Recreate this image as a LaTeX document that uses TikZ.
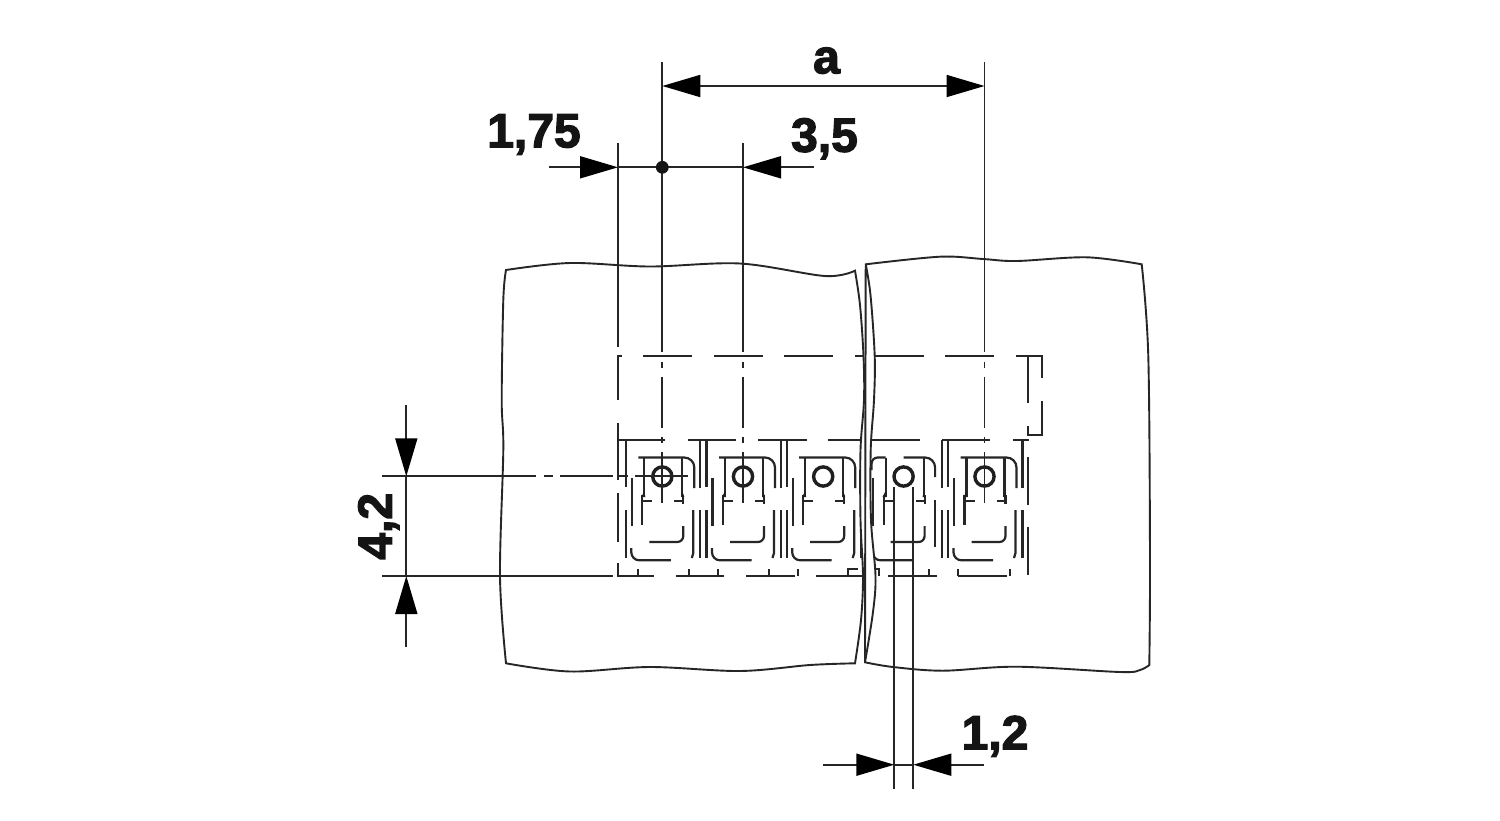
\documentclass[tikz,border=0pt]{standalone}
\usepackage{fontspec}
\setmainfont{Liberation Sans}
\newfontfamily\dimfont{Liberation Sans}[BoldFeatures={FakeBold=2.6}]
\usetikzlibrary{arrows.meta}
\tikzset{
  thinline/.style={line width=1.8pt,color=black!85},
  detail/.style={line width=2.2pt,color=black!85},
  plate/.style={line width=1.9pt,color=black!85,line join=miter},
  dimlabel/.style={inner sep=0pt,anchor=base,font=\dimfont\bfseries\fontsize{48}{48}\selectfont,text=black!92},
  tip/.style={-{Triangle[length=38pt,width=22pt,color=black]}},
  bothtips/.style={{Triangle[length=38pt,width=22pt,color=black]}-{Triangle[length=38pt,width=22pt,color=black]}},
  ring/.style={line width=3.4pt,color=black!88}
}
% common parts of one terminal cell, relative to its centre line
\newcommand{\cellbody}{%
  \draw[detail] (-18,457.5)--(-18,497) (-20,495)--(-20,525) (-20,501)--(-10,501);
  \fill[black!88] (-18,491)--(-17,497)--(-21,497)--cycle;
  \draw[detail] (20,457.5)--(20,497) (21,495)--(21,504) (12,501)--(21,501);
  \fill[black!88] (20,491)--(22,497)--(19,497)--cycle;
  \draw[detail] (-30.5,478)--(-30.5,526);
  \draw[detail] (-36.5,440)--(-36.5,487) (-36.5,510)--(-36.5,558);
  \draw[detail] (38,440)--(38,488) (38,510)--(38,558);
  \draw[detail,rounded corners=6pt] (-13,542)--(21,542)--(21,526);
  \draw[detail,rounded corners=8pt] (-31,548)--(-31,560.3)--(8.5,560.3);
  \draw[ring] (0,476.5) circle[radius=9.6];
}
\newcommand{\cellstd}{%
  \draw[detail,rounded corners=10pt] (-24,457.5)--(32,457.5)--(32,488);
  \draw[detail] (31,510)--(31,553)--(29.5,558);
}
\newcommand{\centreline}[1]{%
  \draw[thinline] (#1,361.7)--(#1,368.3) (#1,376.7)--(#1,428.3) (#1,436.7)--(#1,443.3) (#1,451.7)--(#1,503.3);
}
\newcommand{\edgeAleft}{(855,270.7) (860,305) (863.5,356) (864,400) (860.5,450) (860.5,520) (863,576) (861,620) (855,663.3)}
\newcommand{\edgeBright}{(865.7,264.3) (870.5,295) (874.7,356) (874,400) (870.7,450) (871,520) (875.5,576) (873,612) (865,662.3)}
\begin{document}
\begin{tikzpicture}[x=1pt,y=-1pt]
\useasboundingbox (0,0) rectangle (1500,820);
\fill[white] (0,0) rectangle (1500,820);

% named points of the dimensioning
\coordinate (aL) at (662.3,86);
\coordinate (aR) at (984.5,86);
\coordinate (aLtop) at (662.3,62);
\coordinate (aRtop) at (984.5,62);
\coordinate (aLbot) at (662.3,351.7);
\coordinate (aRbot) at (984.5,351.7);
\coordinate (pL) at (618,167.3);
\coordinate (pR) at (743,167.3);
\coordinate (pLfree) at (549,167.3);
\coordinate (pRfree) at (813.5,167.3);
\coordinate (pLtop) at (618,143);
\coordinate (pLbot) at (618,347);
\coordinate (pRtop) at (743,143);
\coordinate (pRbot) at (743,351.7);
\coordinate (pDot) at (662.3,167.3);
\coordinate (hU) at (406.3,476.3);
\coordinate (hD) at (406.3,576);
\coordinate (hUfree) at (406.3,405);
\coordinate (hDfree) at (406.3,647);
\coordinate (hUext) at (382,476.3);
\coordinate (hUextE) at (536,476.3);
\coordinate (hDext) at (382,576);
\coordinate (hDextE) at (612.7,576);
\coordinate (wL) at (894.3,764.7);
\coordinate (wR) at (913.3,764.7);
\coordinate (wLfree) at (823.3,764.7);
\coordinate (wRfree) at (984.3,764.7);
\coordinate (wLtop) at (894.3,487);
\coordinate (wLbot) at (894.3,789);
\coordinate (wRtop) at (913.3,487);
\coordinate (wRbot) at (913.3,789);

% housing, dashed outline (hidden edges)
\draw[detail] (643,356)--(692,356) (714,356)--(763,356) (784,356)--(833,356) (855,356)--(904,356)
  (875,356)--(924,356) (945,356)--(994,356) (1016,356)--(1042,356)--(1042,378);
\draw[detail] (1042,401)--(1042,435)--(1028,435)--(1028,426) (1028,403)--(1028,356);
\draw[detail] (622,356)--(618,356)--(618,400) (618,423)--(618,480) (618,493)--(618,542) (618,563)--(618,576)--(654,576);
\draw[detail] (676,576)--(724,576) (746,576)--(795,576) (816,576)--(864,576) (888,576)--(937,576) (958,576)--(1007,576);
\draw[detail] (637.7,569)--(637.7,576) (688.7,569)--(688.7,576) (717.7,569)--(717.7,576)
  (768.7,569)--(768.7,576) (798.3,569)--(798.3,576) (929.3,569)--(929.3,576);
\draw[detail] (848.3,576)--(848.3,569)--(858,569) (875,569)--(879,569)--(879,576);
\draw[detail] (958.3,569)--(958.3,576) (1010,569)--(1010,576);
\draw[detail] (618,440)--(665,440) (688,440)--(736,440) (758,440)--(807,440) (828,440)--(920,440) (942,440)--(990,440) (1013,440)--(1029,440);
\draw[detail] (1028,457)--(1028,505) (1028,527)--(1028,575);

% the five terminal cells
\begin{scope}[shift={(662.3,0)}]\cellbody\cellstd\end{scope}
\begin{scope}[shift={(743,0)}]\cellbody\cellstd\end{scope}
\begin{scope}[shift={(823.2,0)}]\cellbody\cellstd\end{scope}
\begin{scope}[shift={(903.6,0)}]
  \cellbody
  \draw[detail,rounded corners=6pt] (-32,470)--(-32,457.5)--(-18,457.5);
  \draw[detail,rounded corners=10pt] (0,457.5)--(31.5,457.5)--(31.5,477);
  \draw[detail] (31.5,500)--(31.5,547);
\end{scope}
\begin{scope}[shift={(984.5,0)}]\cellbody\cellstd\end{scope}

% centre lines
\centreline{662.3}
\centreline{743}
\centreline{984.5}
\draw[thinline] (635,476.3)--(688,476.3);
\draw[thinline] (544,476.3)--(553,476.3) (560,476.3)--(612.7,476.3) (619,476.3)--(628,476.3);

% break between the two plates
\fill[white] plot[smooth,tension=0.55] coordinates {\edgeAleft} -- (865,663) -- plot[smooth,tension=0.55] coordinates {(865,662.3) (873,612) (875.5,576) (871,520) (870.7,450) (874,400) (874.7,356) (870.5,295) (865.7,264.3)} -- cycle;

% plate outlines
\draw[plate] plot[smooth,tension=0.55] coordinates {(506,270) (570,263) (650,266.5) (740,263.5) (825,276) (855,270.7)}
  -- plot[smooth,tension=0.55] coordinates {\edgeAleft}
  -- plot[smooth,tension=0.55] coordinates {(855,663.3) (810,665) (740,671) (650,667) (570,671.5) (506,663.3)}
  -- plot[smooth,tension=0.55] coordinates {(506,663.3) (500,576.7) (503.3,450) (501.7,400) (503.3,300) (506,270)} -- cycle;
\draw[plate] plot[smooth,tension=0.55] coordinates {(865.7,264.3) (940,256.7) (983,259) (1016.7,261) (1086.7,257.3) (1141.7,264.3)}
  -- plot[smooth,tension=0.55] coordinates {(1141.7,264.3) (1148.3,356.7) (1150,560) (1149.3,665)}
  -- plot[smooth,tension=0.55] coordinates {(1149.3,665) (1140,670) (1120,672) (1016.7,666.7) (943,670.7) (893,667) (865,662.3)}
  -- plot[smooth,tension=0.55] coordinates {\edgeBright} -- cycle;

% dimensions
\draw[thinline] (aLtop)--(aLbot);
\draw[thinline] (aRtop)--(aRbot);
\draw[thinline,bothtips] (aL)--(aR);
\draw[thinline] (pLtop)--(pLbot);
\draw[thinline] (pRtop)--(pRbot);
\draw[thinline] (pL)--(pR);
\draw[thinline,tip] (pLfree)--(pL);
\draw[thinline,tip] (pRfree)--(pR);
\fill[black!92] (pDot) circle[radius=6.4];
\draw[thinline] (hUext)--(hUextE);
\draw[thinline] (hDext)--(hDextE);
\draw[thinline] (hU)--(hD);
\draw[thinline,tip] (hUfree)--(hU);
\draw[thinline,tip] (hDfree)--(hD);
\draw[thinline] (wLtop)--(wLbot);
\draw[thinline] (wRtop)--(wRbot);
\draw[thinline] (wL)--(wR);
\draw[thinline,tip] (wLfree)--(wL);
\draw[thinline,tip] (wRfree)--(wR);

% labels
\node[dimlabel] (la) at (826.5,73.3) {a};
\node[dimlabel] (l175) at (534,147.3) {1,75};
\node[dimlabel] (l35) at (824.5,151.7) {3,5};
\node[dimlabel] (l12) at (995,749.3) {1,2};
\node[dimlabel,rotate=90] (l42) at (391.7,526.3) {4,2};
\end{tikzpicture}
\end{document}
